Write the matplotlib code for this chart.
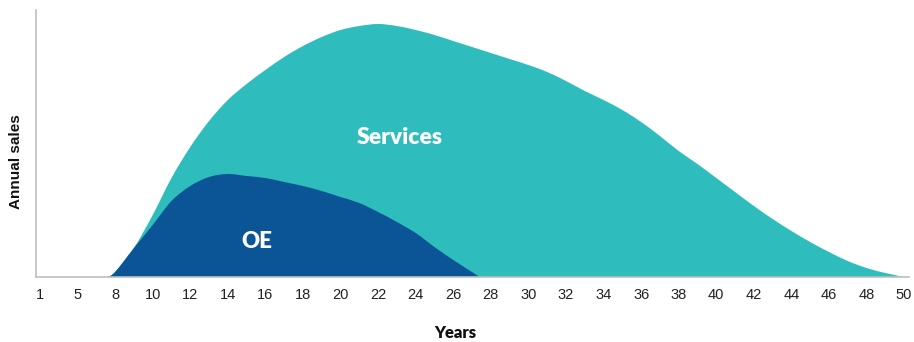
# Annual sales over product life: OE vs services
import numpy as np
import matplotlib.pyplot as plt
from matplotlib.path import Path
from matplotlib.patches import PathPatch

# x axis labels (categorical, evenly spaced)
tick_years = [1, 5, 8] + list(range(10, 51, 2))

# services curve (annual sales, arbitrary units)
svc_years = [7.4, 8, 9, 10, 11, 12, 13, 14, 15, 16, 17, 18, 19, 20, 21, 22, 23, 24,
             25, 26, 27, 28, 29, 30, 31, 32, 33, 34, 35, 36, 37, 38, 39, 40, 41, 42,
             43, 44, 45, 46, 47, 48, 49, 50]
svc_sales = [0, 5, 29, 62, 99, 130, 156, 177, 193, 207, 220, 231, 240, 247, 251, 253, 251, 247,
             242, 236, 230, 224, 218, 212, 205, 196, 186, 177, 167, 155, 141, 126, 113, 99, 85, 71,
             58, 46, 35, 25, 16, 9, 4, 0]

# OE curve
oe_years = [7.4, 8, 9, 10, 11, 12, 13, 14, 15, 16, 17, 18, 19, 20, 21, 22, 23, 24, 25, 26, 27, 27.4]
oe_sales = [0, 5, 29, 52, 76, 91, 100, 103, 101, 99, 95, 91, 86, 80, 74, 65, 55, 44, 30, 17, 5, 0]

teal = '#2EBDBC'
navy = '#0B5597'

# map years onto the evenly spaced label slots
slots = np.arange(len(tick_years))


def smooth_area(xs, ys, color):
    # smoothed (catmull-rom style) outline through the points, closed on the baseline
    x = np.interp(xs, tick_years, slots)
    y = np.asarray(ys, dtype=float)
    p = np.column_stack([x, y])
    pp = np.vstack([p[0], p, p[-1]])
    verts = [(x[0], 0), tuple(p[0])]
    codes = [Path.MOVETO, Path.LINETO]
    for i in range(len(p) - 1):
        c1 = pp[i + 1] + (pp[i + 2] - pp[i]) / 6
        c2 = pp[i + 2] - (pp[i + 3] - pp[i + 1]) / 6
        verts += [tuple(c1), tuple(c2), tuple(p[i + 1])]
        codes += [Path.CURVE4] * 3
    verts += [(x[-1], 0), (x[0], 0)]
    codes += [Path.LINETO, Path.CLOSEPOLY]
    return PathPatch(Path(verts, codes), facecolor=color, edgecolor='none')


fig = plt.figure(figsize=(9.14, 3.42), dpi=100)
ax = fig.add_axes([36 / 914, 65 / 342, 873 / 914, 267 / 342])

ax.add_patch(smooth_area(svc_years, svc_sales, teal))
ax.add_patch(smooth_area(oe_years, oe_sales, navy))

ax.set_xlim(-0.106, 23.13)
ax.set_ylim(0, 267)

ax.set_xticks(slots)
ax.set_xticklabels([str(y) for y in tick_years], family='Liberation Sans', fontsize=10.5, color='#222222')
ax.tick_params(axis='x', length=0, pad=8)
ax.set_yticks([])

for s in ['top', 'right']:
    ax.spines[s].set_visible(False)
for s in ['left', 'bottom']:
    ax.spines[s].set_color('#BFBFBF')
    ax.spines[s].set_linewidth(1.2)
    ax.spines[s].set_zorder(3)

ax.text(9.58, 139, 'Services', ha='center', va='center',
        color='white', fontsize=16.5, fontweight='heavy', family='Lato')
ax.text(5.78, 36, 'OE', ha='center', va='center',
        color='white', fontsize=16, fontweight='heavy', family='Lato')

fig.text(455 / 914, 1 - 333 / 342, 'Years', ha='center', va='center',
         fontsize=12, fontweight='heavy', family='Lato', color='#111111')
fig.text(16 / 914, 1 - 162 / 342, 'Annual sales', ha='center', va='center', rotation=90,
         fontsize=11, fontweight='bold', family='Liberation Sans', color='#111111')

plt.savefig('out.png', dpi=100)
